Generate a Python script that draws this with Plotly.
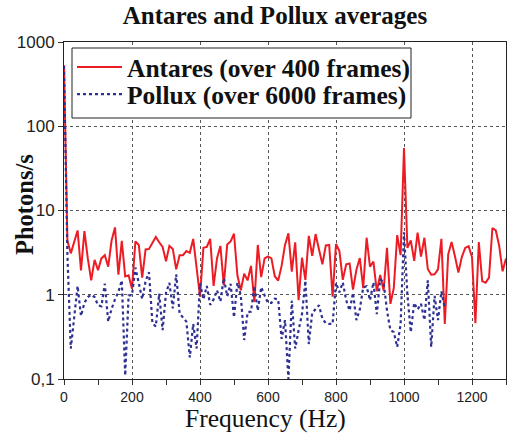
import plotly.graph_objects as go

# ---- data ----
step_hz = 10
antares_vals = [530, 4.4, 3.1, 4.2, 5.8, 1.95, 5.7, 2.7, 1.48, 2.6,
                1.95, 2.7, 2.95, 2.15, 4.4, 6.3, 1.73, 4.35, 1.65, 1.7,
                1.18, 4.3, 3.9, 1.6, 3.45, 3.5, 4.05, 4.85, 4.2, 3.7,
                2.5, 3.8, 3.5, 2.0, 2.95, 2.95, 3.3, 3.15, 4.6, 2.2,
                0.95, 3.6, 3.7, 4.6, 1.27, 2.7, 3.8, 1.29, 3.95, 4.3,
                5.3, 1.7, 1.13, 1.78, 1.48, 2.2, 0.82, 3.9, 1.62, 2.7,
                2.85, 2.7, 1.66, 1.47, 2.2, 3.9, 5.35, 1.88, 4.2, 0.86,
                2.75, 1.5, 5.0, 2.9, 5.25, 3.45, 2.3, 3.85, 3.9, 0.95,
                4.0, 3.3, 1.5, 2.3, 2.35, 1.15, 1.98, 2.73, 1.2, 4.75,
                2.15, 2.48, 1.1, 1.72, 1.12, 3.6, 0.78, 1.2, 5.1, 2.95,
                55, 3.6, 4.4, 2.53, 5.45, 2.83, 4.75, 2.02, 1.73, 1.75,
                2.0, 4.6, 0.45, 3.02, 4.22, 2.85, 1.84, 2.8, 3.6, 3.77,
                2.8, 0.46, 4.22, 1.45, 1.39, 1.6, 6.2, 5.8, 3.8, 1.9,
                2.7]
pollux_vals = [520, 3.0, 0.23, 0.55, 1.27, 0.56, 0.8, 0.94, 1.0, 0.94,
               0.75, 0.73, 1.35, 0.48, 0.68, 0.88, 1.08, 1.48, 0.11, 0.98,
               0.99, 2.1, 1.35, 0.89, 1.45, 1.85, 0.46, 0.42, 1.03, 0.38,
               1.05, 1.38, 0.69, 1.75, 0.6, 0.53, 0.48, 0.18, 0.45, 0.23,
               1.37, 0.88, 1.27, 0.76, 0.88, 1.13, 0.83, 1.58, 0.96, 1.35,
               0.54, 1.39, 0.98, 0.29, 0.62, 0.63, 1.27, 0.65, 1.23, 0.98,
               0.8, 0.8, 0.9, 0.88, 0.3, 0.5, 0.1, 0.85, 0.23, 0.38,
               0.59, 1.47, 0.26, 0.61, 0.68, 0.75, 0.52, 0.46, 0.45, 0.45,
               1.38, 1.07, 1.4, 0.86, 0.65, 1.05, 0.5, 0.67, 1.22, 1.26,
               0.86, 1.4, 0.59, 1.52, 1.4, 0.65, 0.38, 0.36, 0.24, 0.45,
               5.5, 1.0, 0.36, 0.8, 0.67, 0.78, 0.5, 1.48, 0.24, 0.97,
               0.5, 1.1, 0.69]
antares_freq = [i * step_hz for i in range(len(antares_vals))]
pollux_freq = [i * step_hz for i in range(len(pollux_vals))]

x_tickvals = [0, 200, 400, 600, 800, 1000, 1200]
y_tickvals = [0.1, 1, 10, 100, 1000]
y_ticktext = ["0,1", "1", "10", "100", "1000"]

title_text = "Antares and Pollux averages"
antares_name = "Antares (over 400 frames)"
pollux_name = "Pollux (over 6000 frames)"
x_title = "Frequency (Hz)"
y_title = "Photons/s"

W, H = 512, 433
ML, MR, MT, MB = 64, 6, 42, 54
PW, PH = W - ML - MR, H - MT - MB


def px_x(px):
    return (px - ML) / PW


def px_y(py):
    return (H - MB - py) / PH


fig = go.Figure()
fig.add_trace(go.Scatter(x=antares_freq, y=antares_vals, mode="lines",
                         name=antares_name, legend="legend",
                         line=dict(color="#ed1c24", width=2)))
fig.add_trace(go.Scatter(x=pollux_freq, y=pollux_vals, mode="lines",
                         name=pollux_name, legend="legend2",
                         line=dict(color="#2e3192", width=2.2, dash="dot")))

serif = "Liberation Serif"
sans = "Liberation Sans"
leg_font = dict(family=serif, size=25.5, color="#111", weight="bold")
leg_common = dict(xanchor="left", yanchor="middle", bgcolor="rgba(0,0,0,0)",
                  borderwidth=0, font=leg_font, itemwidth=45)

fig.update_layout(
    width=W, height=H,
    margin=dict(l=ML, r=MR, t=MT, b=MB),
    paper_bgcolor="white", plot_bgcolor="white",
    title=dict(text=title_text, x=275 / W, xref="container", xanchor="center",
               y=1 - 15.5 / H, yref="container", yanchor="middle",
               font=dict(family=serif, size=25, color="#111", weight="bold")),
    legend=dict(x=px_x(72), y=px_y(67.5), **leg_common),
    legend2=dict(x=px_x(72), y=px_y(94.5), **leg_common),
    showlegend=True,
    shapes=[dict(type="rect", xref="paper", yref="paper", layer="above",
                 x0=px_x(72), x1=px_x(411), y0=px_y(118), y1=px_y(48),
                 line=dict(color="#222", width=1), fillcolor="white")],
)

fig.update_xaxes(
    range=[0, 1300], tickvals=x_tickvals,
    ticks="outside", ticklen=5, tickcolor="#333",
    minor=dict(dtick=100, tick0=0, ticks="outside", ticklen=5, tickcolor="#333",
               showgrid=False),
    showgrid=True, gridcolor="#555", griddash="dot", gridwidth=1,
    showline=True, linecolor="#222", linewidth=1, mirror=True,
    zeroline=False,
    tickfont=dict(family=sans, size=14, color="#222"),
)
fig.update_yaxes(
    type="log", range=[-1, 3], tickvals=y_tickvals, ticktext=y_ticktext,
    ticks="outside", ticklen=5, tickcolor="#333",
    showgrid=True, gridcolor="#555", griddash="dot", gridwidth=1,
    showline=True, linecolor="#222", linewidth=1, mirror=True,
    zeroline=False,
    tickfont=dict(family=sans, size=17, color="#222"),
)

fig.add_annotation(text=y_title, xref="paper", yref="paper",
                   x=px_x(24), y=px_y(205),
                   xanchor="center", yanchor="middle", textangle=-90,
                   showarrow=False,
                   font=dict(family=serif, size=24.5, color="#111", weight="bold"))
fig.add_annotation(text=x_title, xref="paper", yref="paper",
                   x=px_x(265), y=px_y(418.5),
                   xanchor="center", yanchor="middle",
                   showarrow=False,
                   font=dict(family=serif, size=25.5, color="#111"))

fig.write_html("out.html", config={"displayModeBar": False},
               post_script="document.body.style.margin='0';")
